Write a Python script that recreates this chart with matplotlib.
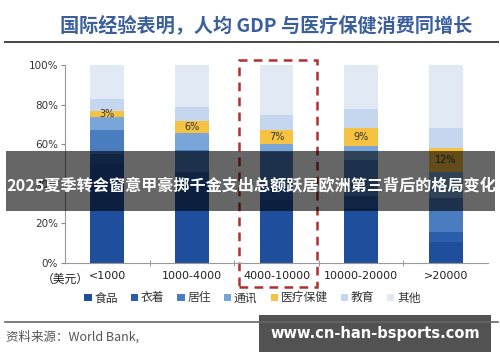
import matplotlib.pyplot as plt
from matplotlib.patches import Rectangle
import numpy as np

plt.rcParams['font.family'] = ['Noto Sans CJK SC', 'DejaVu Sans']

categories = ['<1000', '1000-4000', '4000-10000', '10000-20000', '>20000']
series_names = ['食品', '衣着', '居住', '通讯', '医疗保健', '教育', '其他']
food = [50, 40, 32, 28, 10.6]
clothing = [5, 6, 6, 6, 5.1]
housing = [12, 11, 18, 18, 17.3]
telecom = [6.7, 8.6, 4, 7, 13]
health = [3, 6, 7, 9, 12]
education = [6.1, 7.2, 7.7, 10, 10]
other = [17.2, 21.2, 25.3, 22, 32]
colors = ['#1f4e9c', '#2a5eab', '#4a7cc0', '#7aa5d8', '#f5c242', '#c5d7ee', '#e1e9f5']

series = [food, clothing, housing, telecom, health, education, other]

fig = plt.figure(figsize=(5, 3.62), dpi=100)
ax = fig.add_axes([0.13, 0.2735, 0.846, 0.547])

x = np.arange(len(categories))
bottom = np.zeros(len(categories))
for name, vals, c in zip(series_names, series, colors):
    v = np.array(vals) / 100
    ax.bar(x, v, 0.4, bottom=bottom, color=c, label=name, linewidth=0)
    if name == '医疗保健':
        for xi, b, h, raw in zip(x, bottom, v, vals):
            ax.text(xi, b + h / 2, f'{raw:g}%', ha='center', va='center',
                    fontsize=7, color='#333333', family='DejaVu Sans')
    bottom += v

ax.set_xlim(-0.5, 4.5)
ax.set_ylim(0, 1)
ax.set_yticks(np.linspace(0, 1, 6))
ax.set_yticklabels([f'{int(t)}%' for t in np.linspace(0, 100, 6)],
                   family='DejaVu Sans', fontsize=7.5, color='#333333')
ax.set_xticks(x)
ax.set_xticklabels(categories, family='DejaVu Sans', fontsize=8, color='#222222')
ax.set_xticks(x[:-1] + 0.5, minor=True)
ax.tick_params(axis='x', which='major', length=0, pad=6)
ax.tick_params(axis='x', which='minor', length=4, color='#888888', direction='inout')
ax.tick_params(axis='y', length=3, color='#888888', pad=2)
for s in ['top', 'right']:
    ax.spines[s].set_visible(False)
ax.spines['left'].set_color('#999999')
ax.spines['bottom'].set_color('#999999')

# dashed highlight box around the middle bracket
ax.add_patch(Rectangle((1.56, -0.122), 0.92, 1.146, fill=False, edgecolor='#b03030',
                       linewidth=1.8, linestyle=(0, (3.5, 2.5)), clip_on=False))

fig.text(0.177, 0.229, '（美元）', ha='right', va='center', fontsize=8.5, color='#222222')

handles, labels = ax.get_legend_handles_labels()
fig.legend(handles, labels, loc='center', bbox_to_anchor=(0.505, 0.177), ncol=7,
           frameon=False, fontsize=8.5, handlelength=0.6, handleheight=0.6,
           handletextpad=0.25, columnspacing=1.1, labelcolor='#333333')

fig.text(0.533, 0.931, '国际经验表明，人均 GDP 与医疗保健消费同增长', ha='center', va='center',
         fontsize=13.8, fontweight='bold', color='#3b5f9c')
fig.add_artist(plt.Line2D([0.01, 0.996], [0.884, 0.884], color='#444444', linewidth=1.4))
fig.add_artist(plt.Line2D([0.01, 0.996], [0.111, 0.111], color='#666666', linewidth=1.2))
fig.text(0.012, 0.069, '资料来源：World Bank,', ha='left', va='center', fontsize=9, color='#555555')

# overlay banners
fig.add_artist(Rectangle((0.012, 0.417), 0.978, 0.166, transform=fig.transFigure,
                         color='black', alpha=0.6, linewidth=0))
fig.text(0.502, 0.487, '2025夏季转会窗意甲豪掷千金支出总额跃居欧洲第三背后的格局变化',
         ha='center', va='center', fontsize=11.6, fontweight='bold', color='white')
fig.add_artist(Rectangle((0.518, 0.028), 0.464, 0.102, transform=fig.transFigure,
                         color='black', alpha=0.68, linewidth=0))
fig.text(0.75, 0.08, 'www.cn-han-bsports.com', ha='center', va='center',
         fontsize=10.5, fontweight='bold', color='white', family='DejaVu Sans')

fig.savefig('out.png', dpi=100)
